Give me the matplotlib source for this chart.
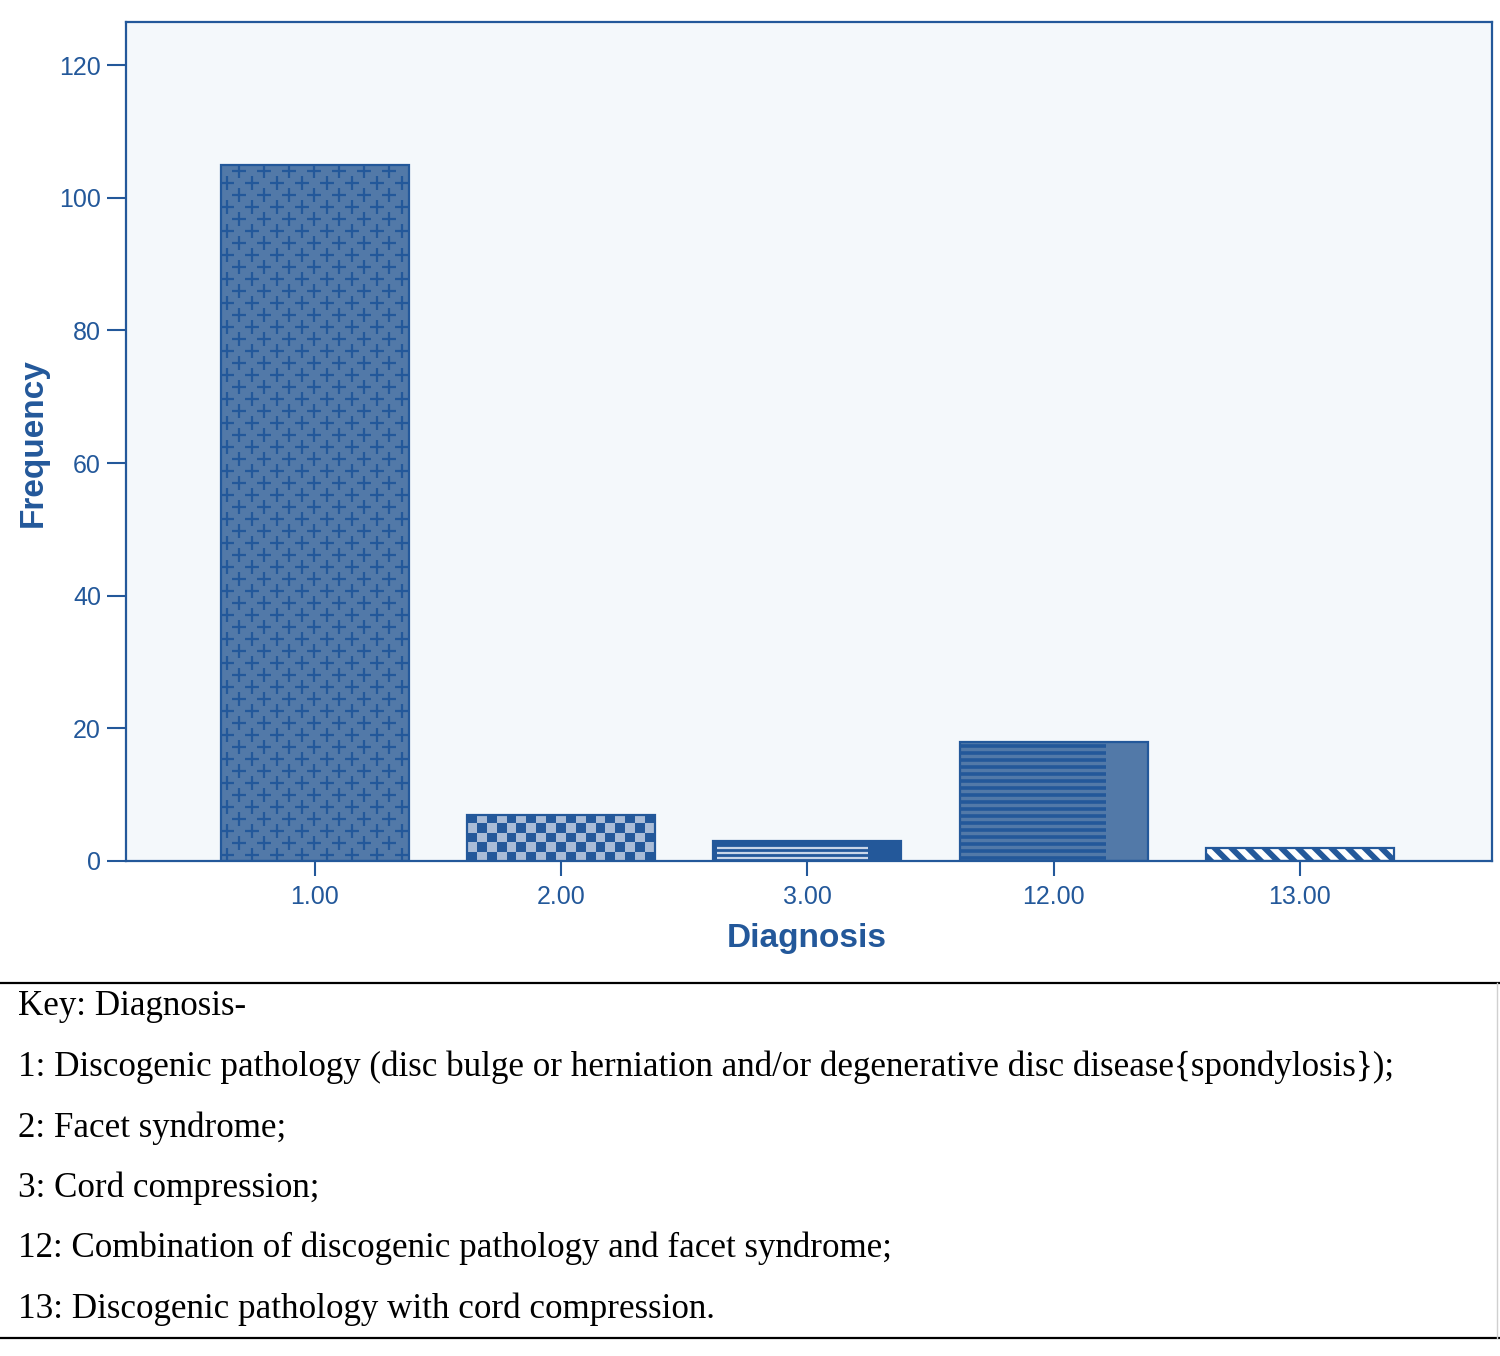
import numpy as np
import matplotlib
matplotlib.use("Agg")
import matplotlib.pyplot as plt
from matplotlib.lines import Line2D
from matplotlib.colors import ListedColormap

# data
categories = ["1.00", "2.00", "3.00", "12.00", "13.00"]
frequency = [105, 7, 3, 18, 2]
yticks = [0, 20, 40, 60, 80, 100, 120]
key_lines = [
    "Key: Diagnosis-",
    "1: Discogenic pathology (disc bulge or herniation and/or degenerative disc disease{spondylosis});",
    "2: Facet syndrome;",
    "3: Cord compression;",
    "12: Combination of discogenic pathology and facet syndrome;",
    "13: Discogenic pathology with cord compression.",
]

dark = "#23589a"
mid = "#5279a8"
light = "#a9bcd7"
stripe_light = "#c9d6e8"
bg = "#f4f8fb"

W, H = 1500, 1356
fig = plt.figure(figsize=(W / 100, H / 100), dpi=100)
ax = fig.add_axes([126 / W, 1 - 861 / H, (1492 - 126) / W, (861 - 22) / H])
ax.set_facecolor(bg)

pos = np.arange(len(categories))
bw = 0.763
ax.set_xlim(-0.767, 4.78)
ax.set_ylim(0, 126.5)

faces = [mid, dark, dark, mid, "white"]
bars = ax.bar(pos, frequency, width=bw, color=faces, edgecolor="none", zorder=2)

# pixel scale for patterns
fig.canvas.draw()
p0 = ax.transData.transform((0, 0))
p1 = ax.transData.transform((1, 1))
px_x = p1[0] - p0[0]
px_y = p1[1] - p0[1]

# bar 1: staggered plus signs
b = bars[0]
xs, ys = [], []
for i, yy in enumerate(np.arange(0.5 * 12 / px_y, frequency[0], 12 / px_y)):
    off = (12.5 / px_x) if i % 2 else 0
    for xx in np.arange(pos[0] - bw / 2 + 6 / px_x + off, pos[0] + bw / 2, 25 / px_x):
        xs.append(xx)
        ys.append(yy)
sc = ax.scatter(xs, ys, marker="+", s=100, color=dark, linewidths=1.6, zorder=3)
sc.set_clip_path(b)

# bar 2: checkerboard
b = bars[1]
ncol = int(round(bw * px_x / 10))
nrow = int(round(frequency[1] * px_y / 10))
chk = (np.indices((nrow, ncol)).sum(axis=0) % 2)
im = ax.imshow(chk, cmap=ListedColormap([dark, light]), aspect="auto",
               extent=(pos[1] - bw / 2, pos[1] + bw / 2, 0, frequency[1]),
               interpolation="nearest", zorder=3)
im.set_clip_path(b)

# bar 3: light stripes over left part
x0 = pos[2] - bw / 2
for yy in np.arange(3 / px_y, frequency[2] - 4 / px_y, 5.2 / px_y):
    ax.hlines(yy, x0 + 4 / px_x, x0 + 0.82 * bw, color=stripe_light, lw=1.6, zorder=3)

# bar 12: dark stripes over left part
x0 = pos[3] - bw / 2
for yy in np.arange(3.5 / px_y, frequency[3], 7 / px_y):
    ax.hlines(yy, x0, x0 + 0.78 * bw, color=dark, lw=2.6, zorder=3)

# bar 13: diagonal stripes
plt.rcParams["hatch.linewidth"] = 4.2
plt.rcParams["hatch.color"] = dark
ax.bar(pos[4], frequency[4], width=bw, color="none", edgecolor=dark, hatch="\\\\",
       lw=0, zorder=3)

# outlines
ax.bar(pos, frequency, width=bw, fill=False, edgecolor=dark, lw=1.6, zorder=4)

for s in ax.spines.values():
    s.set_color(dark)
    s.set_linewidth(1.6)

ax.set_xticks(pos)
ax.set_xticklabels(categories)
ax.set_yticks(yticks)
ax.tick_params(axis="both", colors=dark, labelcolor=dark, width=1.5, labelsize=18,
               direction="out")
ax.tick_params(axis="y", length=14, pad=4)
ax.tick_params(axis="x", length=11, pad=6)
for lab in ax.get_xticklabels() + ax.get_yticklabels():
    lab.set_fontfamily("Liberation Sans")

ax.set_xlabel("Diagnosis", fontsize=24, fontweight="bold", color=dark,
              fontfamily="Liberation Sans", va="center")
ax.xaxis.set_label_coords((807 - 126) / (1492 - 126), -(938 - 861) / (861 - 22))
ax.set_ylabel("Frequency", fontsize=24, fontweight="bold", color=dark,
              fontfamily="Liberation Sans", va="center")
ax.yaxis.set_label_coords(-(126 - 33) / (1492 - 126), (861 - 443) / (861 - 22))

# key table
fig.add_artist(Line2D([0, 1], [1 - 983 / H, 1 - 983 / H], color="black", lw=1.6,
                      transform=fig.transFigure))
fig.add_artist(Line2D([0, 1], [1 - 1338 / H, 1 - 1338 / H], color="black", lw=1.6,
                      transform=fig.transFigure))
fig.add_artist(Line2D([1497 / W, 1497 / W], [1 - 1338 / H, 1 - 983 / H], color="#d0d0d0",
                      lw=1, transform=fig.transFigure))
baselines = [1015, 1076, 1137, 1197, 1257, 1318]
for txt, yb in zip(key_lines, baselines):
    fig.text(18 / W, 1 - yb / H, txt, fontsize=25.2, fontfamily="Liberation Serif",
             va="baseline", ha="left", color="black")

fig.savefig("out.png", dpi=100)
